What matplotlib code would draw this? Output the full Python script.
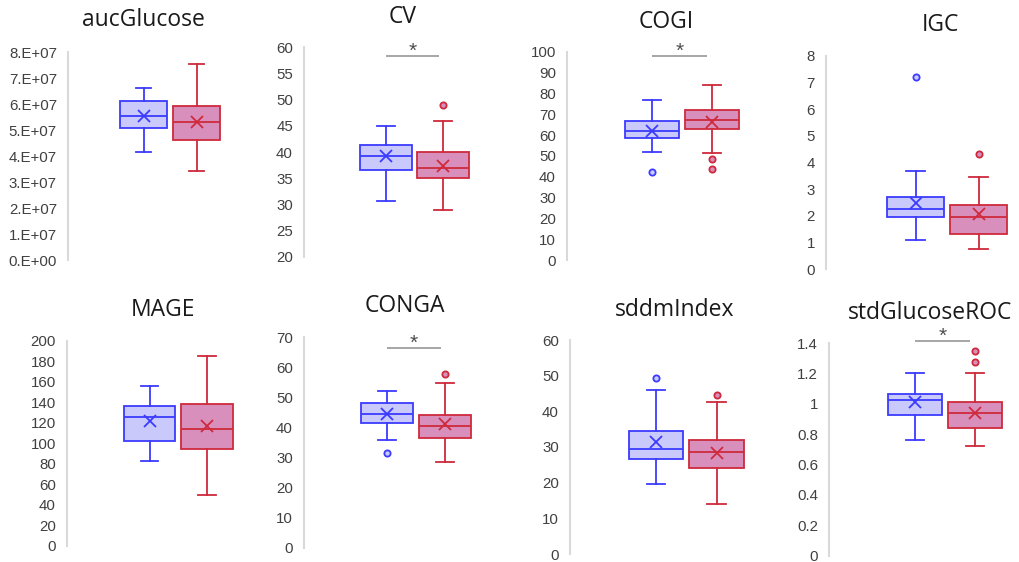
import matplotlib
matplotlib.use("Agg")
import matplotlib.pyplot as plt
from matplotlib.ticker import FuncFormatter
import numpy as np

# panel titles
titles = ["aucGlucose", "CV", "COGI", "IGC",
          "MAGE", "CONGA", "sddmIndex", "stdGlucoseROC"]

# blue group box stats
blue_lo = [4.16e7, 30.6, 52.0, 1.10, 82.4, 35.7, 19.7, 0.764]
blue_q1 = [5.06e7, 36.5, 58.4, 1.96, 102.6, 41.6, 26.7, 0.930]
blue_med = [5.54e7, 39.3, 61.9, 2.26, 126.0, 44.6, 29.4, 1.024]
blue_mean = [5.54e7, 39.3, 62.1, 2.47, 122.0, 44.4, 31.3, 1.011]
blue_q3 = [6.12e7, 41.3, 66.9, 2.71, 136.5, 48.1, 34.5, 1.063]
blue_hi = [6.63e7, 44.9, 76.8, 3.68, 156.4, 52.3, 46.1, 1.206]
blue_out = [[], [], [42.2], [7.19], [], [31.6], [49.3], []]

# red group box stats
red_lo = [3.44e7, 28.9, 51.2, 0.75, 49.5, 28.5, 14.1, 0.720]
red_q1 = [4.63e7, 35.0, 62.7, 1.34, 94.1, 36.4, 24.1, 0.842]
red_med = [5.29e7, 37.0, 67.2, 1.96, 113.7, 40.6, 28.5, 0.939]
red_mean = [5.31e7, 37.3, 66.2, 2.06, 116.6, 41.1, 28.2, 0.941]
red_q3 = [5.94e7, 40.0, 72.0, 2.40, 138.0, 44.2, 31.9, 1.011]
red_hi = [7.55e7, 46.0, 84.2, 3.47, 185.3, 54.7, 42.6, 1.201]
red_out = [[], [48.9], [48.6, 43.7], [4.31], [], [57.8], [44.7], [1.350, 1.276]]

# y axis ranges
y_min = [0, 20, 0, 0, 0, 0, 0, 0]
y_max = [8e7, 60, 100, 8, 200, 70, 60, 1.4]
y_step = [1e7, 5, 10, 1, 20, 10, 10, 0.2]

# significance bar heights (None = no bar)
sig_y = [None, 58.3, 97.8, None, None, 66.6, None, 1.416]

# layout in pixels: axis line x, blue centre, red centre, top tick y, bottom tick y
W, H = 1019, 562
px_axis = [68, 304, 567, 826, 67, 304, 570, 829]
px_blue = [143.5, 386, 651.5, 915.5, 149.5, 387, 656, 914.5]
px_red = [196.5, 443, 711.5, 978.5, 207, 445, 716.5, 974.5]
px_top = [52, 47.3, 51.7, 55.7, 341, 337.3, 340, 343.3]
px_bot = [260, 256.7, 260, 269.3, 545.7, 547.7, 554, 555.5]
px_title = [(143, 20), (403, 17), (666, 22), (940, 25),
            (163, 310), (405, 306), (675, 310), (930, 313)]

BLUE_EDGE, BLUE_FILL = "#3b3bff", "#c9c9fb"
RED_EDGE, RED_FILL = "#cf2a3c", "#d88fbb"


def fmt_sci(v, pos):
    if v == 0:
        return "0.E+00"
    e = int(np.floor(np.log10(abs(v)) + 1e-9))
    return f"{v / 10 ** e:.0f}.E+{e:02d}"


def fmt_plain(v, pos):
    return f"{round(v, 6):g}"


fig = plt.figure(figsize=(W / 100, H / 100), dpi=100)

for i in range(8):
    unit = px_red[i] - px_blue[i]
    xl = 1 - (px_blue[i] - px_axis[i]) / unit
    xr = 2.6
    left = px_axis[i] / W
    bottom = 1 - px_bot[i] / H
    width = (xr - xl) * unit / W
    height = (px_bot[i] - px_top[i]) / H
    ax = fig.add_axes([left, bottom, width, height])

    groups = [
        (blue_lo, blue_q1, blue_med, blue_mean, blue_q3, blue_hi, blue_out, BLUE_EDGE, BLUE_FILL),
        (red_lo, red_q1, red_med, red_mean, red_q3, red_hi, red_out, RED_EDGE, RED_FILL),
    ]
    for j, (lo, q1, med, mean, q3, hi, out, ec, fc) in enumerate(groups):
        stats = [dict(whislo=lo[i], q1=q1[i], med=med[i], mean=mean[i],
                      q3=q3[i], whishi=hi[i], fliers=out[i])]
        ax.bxp(stats, positions=[j + 1], widths=0.9, capwidths=0.3,
               patch_artist=True, showmeans=True, manage_ticks=False,
               boxprops=dict(facecolor=fc, edgecolor=ec, linewidth=1.3),
               medianprops=dict(color=ec, linewidth=1.3),
               whiskerprops=dict(color=ec, linewidth=1.3),
               capprops=dict(color=ec, linewidth=1.3),
               meanprops=dict(marker="x", markeredgecolor=ec, markersize=8,
                              markeredgewidth=1.3),
               flierprops=dict(marker="o", markerfacecolor=fc, markeredgecolor=ec,
                               markersize=4.5, markeredgewidth=1.3))

    if sig_y[i] is not None:
        ax.plot([1.0, 1.93], [sig_y[i], sig_y[i]], color="#a6a6a6", lw=1.4,
                clip_on=False, solid_capstyle="butt")
        ax.annotate("*", (1.465, sig_y[i]), xytext=(0, -3.5), textcoords="offset points",
                    ha="center", va="bottom", fontsize=15, color="#4d4d4d",
                    family="Liberation Sans", annotation_clip=False)

    ax.set_xlim(xl, xr)
    ax.set_ylim(y_min[i], y_max[i])
    ax.set_yticks(np.arange(y_min[i], y_max[i] + y_step[i] / 2, y_step[i]))
    ax.yaxis.set_major_formatter(FuncFormatter(fmt_sci if i == 0 else fmt_plain))
    ax.set_xticks([])
    for s in ["top", "right", "bottom"]:
        ax.spines[s].set_visible(False)
    ax.spines["left"].set_color("#d9d9d9")
    ax.spines["left"].set_linewidth(1.5)
    ax.tick_params(axis="y", length=0, pad=8, labelsize=10.8, labelcolor="#404040")
    for lab in ax.get_yticklabels():
        lab.set_family("Liberation Sans")
    ax.patch.set_alpha(0)

    tx, ty = px_title[i]
    fig.text(tx / W, 1 - ty / H, titles[i], ha="center", va="center",
             fontsize=16.5, color="#1a1a1a", family="Open Sans")

fig.savefig("out.png", dpi=100)
